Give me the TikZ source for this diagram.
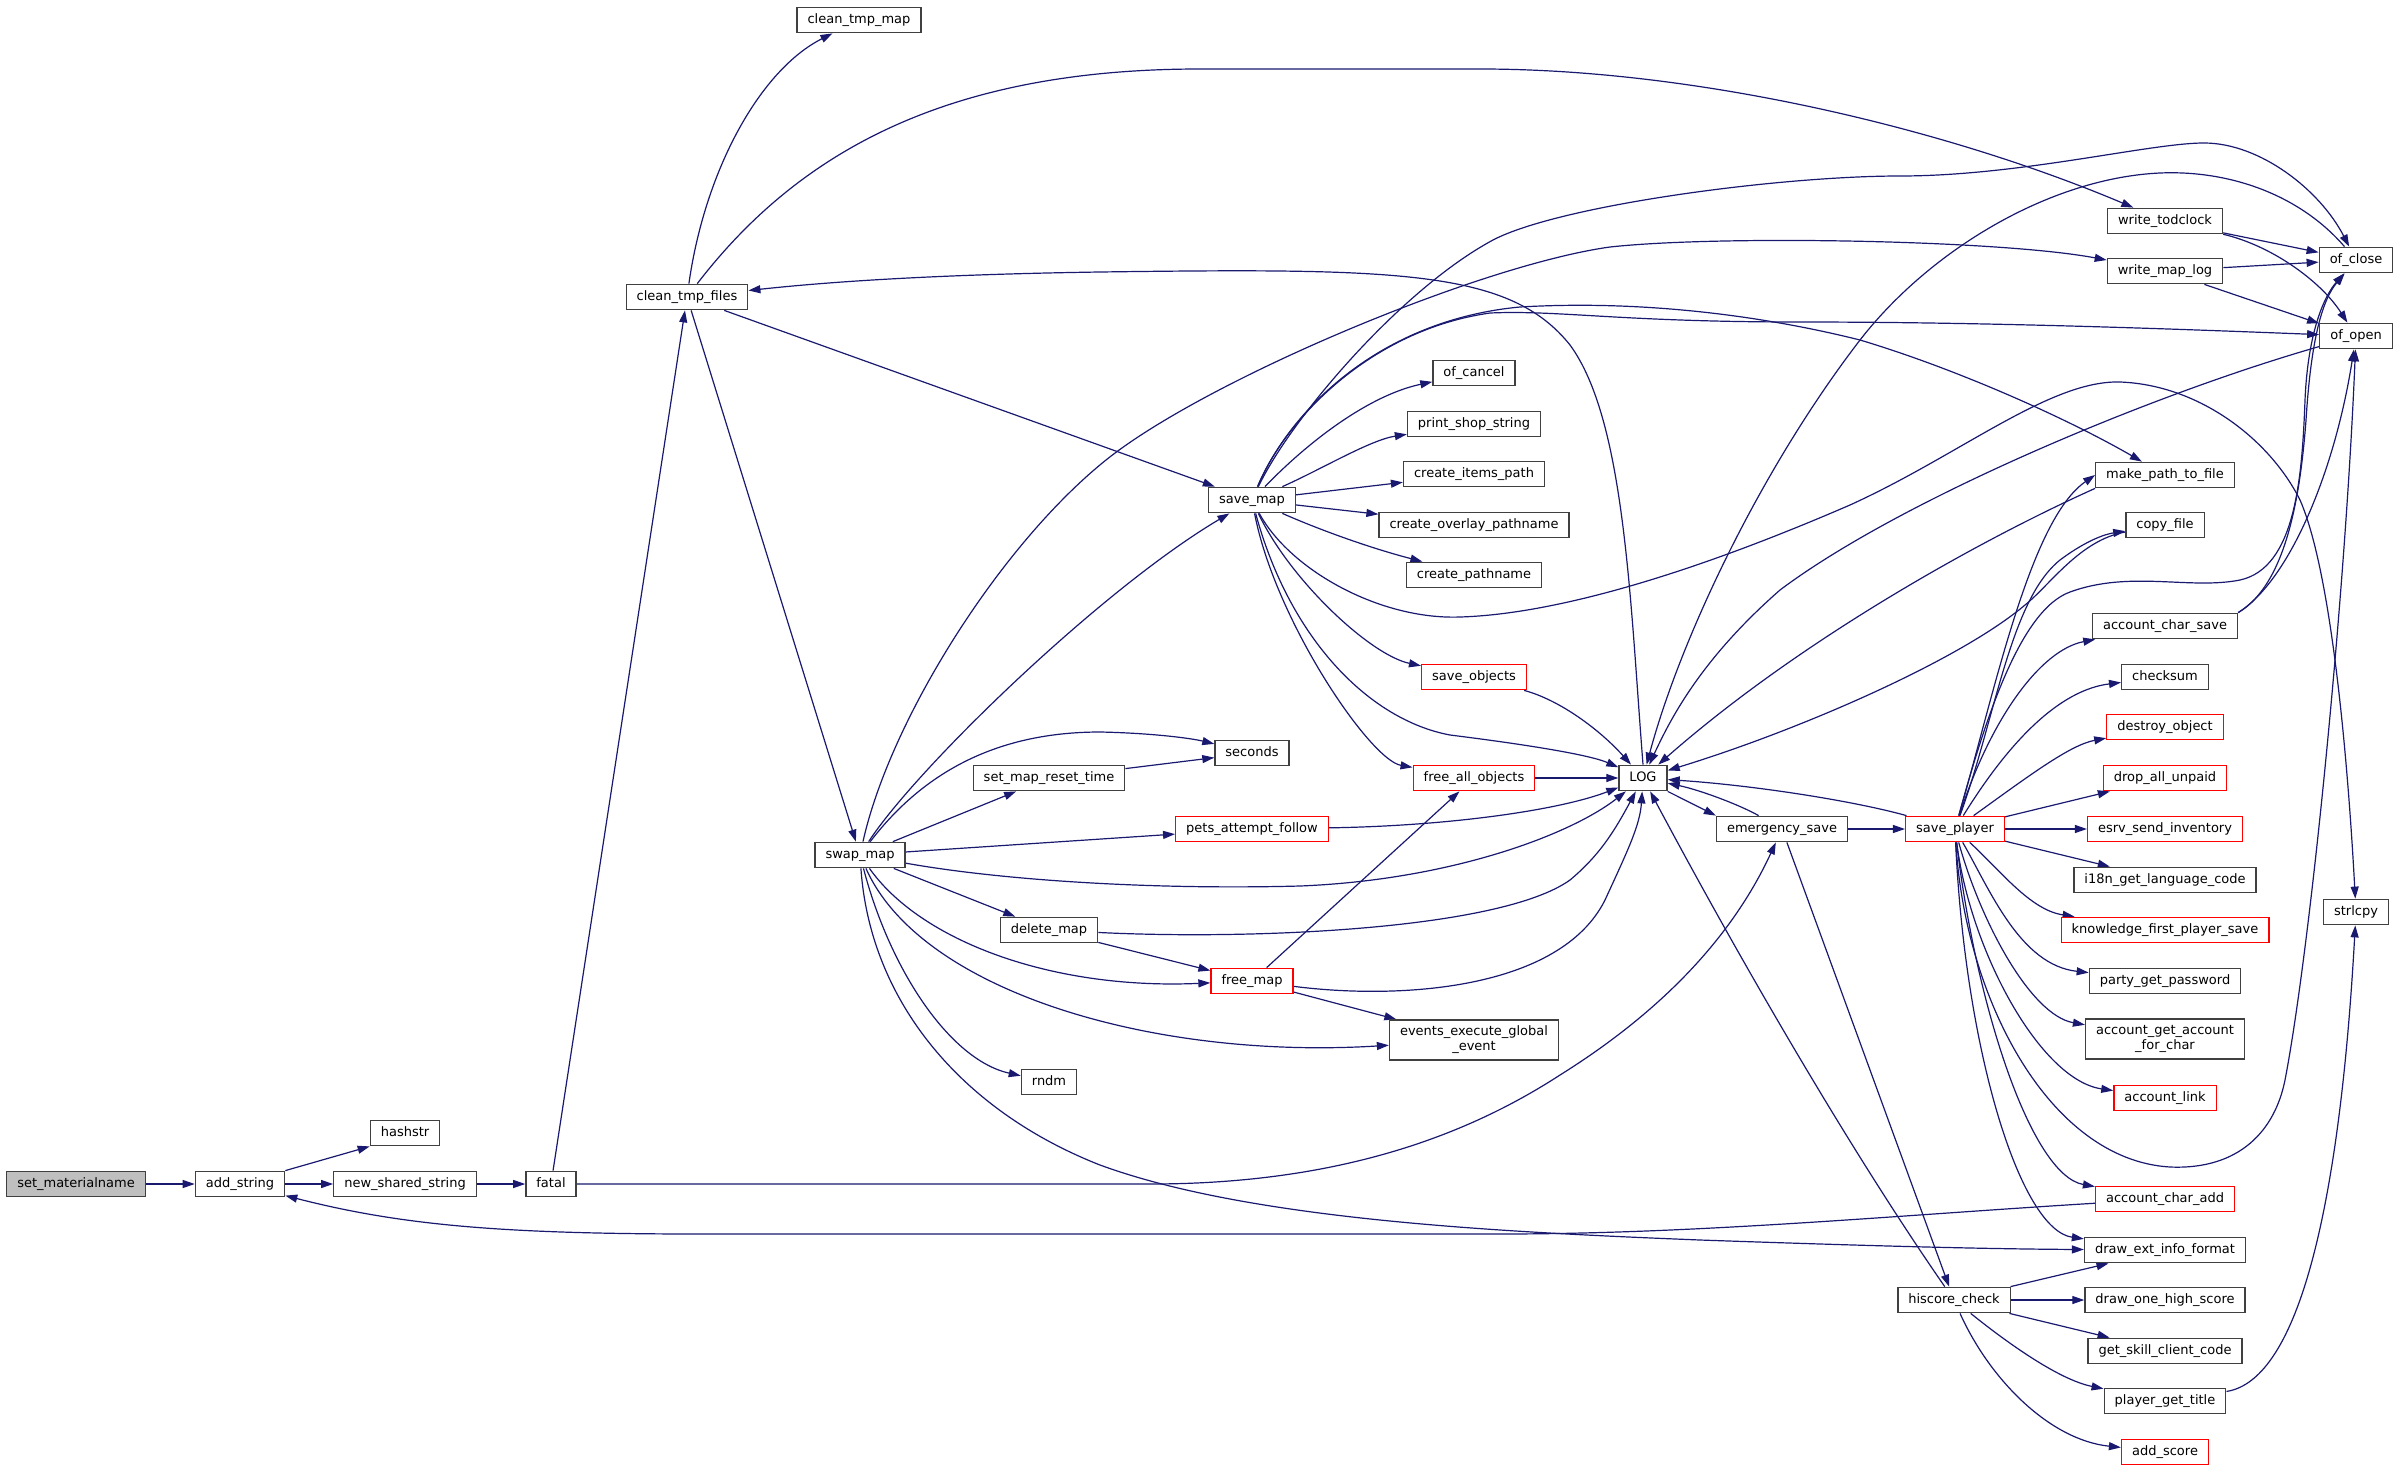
\documentclass[tikz,border=0pt]{standalone}
\usepackage{fontspec}
\setmainfont{DejaVu Sans}
\usetikzlibrary{arrows.meta}
\definecolor{edgeblue}{HTML}{191970}
\definecolor{rootgrey}{HTML}{BFBFBF}
\definecolor{boxline}{HTML}{404040}
\pgfdeclarelayer{edgelayer}
\pgfdeclarelayer{paper}
\pgfsetlayers{paper,edgelayer,main}
\begin{document}
\begin{tikzpicture}[x=1pt,y=-1pt,
  fn/.style={draw=boxline, line width=1.3pt, fill=white, font=\fontsize{13}{15}\selectfont,
    inner xsep=10.5pt, inner ysep=0pt, minimum height=25.5pt, text height=9.8pt, text depth=3pt},
  fnred/.style={fn, draw=red},
  fnroot/.style={fn, fill=rootgrey},
  fntwo/.style={draw=boxline, line width=1.3pt, fill=white, font=\fontsize{13}{15}\selectfont,
    align=center, inner xsep=10.5pt, inner ysep=3pt, minimum height=40pt},
  e/.style={draw=edgeblue, line width=1.2pt, -{Triangle[length=12pt,width=8pt]}},
]
\begin{pgfonlayer}{paper}
\fill[white] (0,0) rectangle (2400,1472);
\end{pgfonlayer}
\useasboundingbox (0,0) rectangle (2400,1472);

% ---------------- nodes ----------------
\node[fnroot] (setm) at (76,1184) {set\_materialname};
\node[fn] (adds) at (240,1184) {add\_string};
\node[fn] (hashstr) at (405,1133) {hashstr};
\node[fn] (nss) at (405,1184) {new\_shared\_string};
\node[fn] (fatal) at (551,1184) {fatal};
\node[fn] (ctf) at (687,297) {clean\_tmp\_files};
\node[fn] (ctm) at (859,20) {clean\_tmp\_map};
\node[fn] (savemap) at (1252,500) {save\_map};
\node[fn] (ofcancel) at (1474,373) {of\_cancel};
\node[fn] (pss) at (1474,424) {print\_shop\_string};
\node[fn] (cip) at (1474,474) {create\_items\_path};
\node[fn] (cop) at (1474,525) {create\_overlay\_pathname};
\node[fn] (cpn) at (1474,575) {create\_pathname};
\node[fnred] (saveobj) at (1474,677) {save\_objects};
\node[fnred] (fao) at (1474,778) {free\_all\_objects};
\node[fn] (seconds) at (1252,753) {seconds};
\node[fn] (smrt) at (1049,778) {set\_map\_reset\_time};
\node[fn] (swapmap) at (860,855) {swap\_map};
\node[fnred] (paf) at (1252,829) {pets\_attempt\_follow};
\node[fn] (delmap) at (1049,930) {delete\_map};
\node[fnred] (freemap) at (1252,981) {free\_map};
\node[fntwo] (eeg) at (1474,1040) {events\_execute\_global\\\_event};
\node[fn] (rndm) at (1049,1082) {rndm};
\node[fn] (wtc) at (2165,221) {write\_todclock};
\node[fn] (wml) at (2165,271) {write\_map\_log};
\node[fn] (ofclose) at (2356,260) {of\_close};
\node[fn] (ofopen) at (2356,336) {of\_open};
\node[fn] (mptf) at (2165,475) {make\_path\_to\_file};
\node[fn] (copyf) at (2165,525) {copy\_file};
\node[fn] (acs) at (2165,626) {account\_char\_save};
\node[fn] (checksum) at (2165,677) {checksum};
\node[fn] (LOG) at (1643,778) {LOG};
\node[fn] (esave) at (1782,829) {emergency\_save};
\node[fnred] (splayer) at (1955,829) {save\_player};
\node[fnred] (destroy) at (2165,727) {destroy\_object};
\node[fnred] (dropall) at (2165,778) {drop\_all\_unpaid};
\node[fnred] (esrv) at (2165,829) {esrv\_send\_inventory};
\node[fn] (i18n) at (2165,880) {i18n\_get\_language\_code};
\node[fnred] (kfps) at (2165,930) {knowledge\_first\_player\_save};
\node[fn] (pgp) at (2165,981) {party\_get\_password};
\node[fntwo] (agafc) at (2165,1039) {account\_get\_account\\\_for\_char};
\node[fnred] (alink) at (2165,1098) {account\_link};
\node[fnred] (aca) at (2165,1199) {account\_char\_add};
\node[fn] (deif) at (2165,1250) {draw\_ext\_info\_format};
\node[fn] (hiscore) at (1954,1300) {hiscore\_check};
\node[fn] (dohs) at (2165,1300) {draw\_one\_high\_score};
\node[fn] (gscc) at (2165,1351) {get\_skill\_client\_code};
\node[fn] (pgt) at (2165,1401) {player\_get\_title};
\node[fnred] (addscore) at (2165,1452) {add\_score};
\node[fn] (strlcpy) at (2356,912) {strlcpy};

% ---------------- edges ----------------
\begin{pgfonlayer}{edgelayer}
% left chain
\draw[e] (setm) -- (adds);
\draw[e] (adds.north east) -- (hashstr.south west);
\draw[e] (adds) -- (nss);
\draw[e] (nss) -- (fatal);
\draw[e] (fatal) -- (ctf);
\draw[e] (fatal) -- (1150,1184) .. controls (1330,1184) and (1460,1140) .. (1560,1075) .. controls (1680,1000) and (1740,920) .. (esave);
\draw[e] (aca) .. controls (1900,1215) and (1700,1234) .. (1500,1234) -- (700,1234) .. controls (500,1234) and (400,1225) .. (adds);

% clean_tmp_files
\draw[e] (ctf) .. controls (705,170) and (760,70) .. (ctm);
\draw[e] (ctf) .. controls (800,150) and (950,69) .. (1200,69) -- (1480,69) .. controls (1700,69) and (1950,130) .. (wtc);
\draw[e] (ctf) -- (savemap);
\draw[e] (ctf) -- (swapmap);
\draw[e] (LOG.north) .. controls (1630,600) and (1625,420) .. (1570,345) .. controls (1510,270) and (1400,268) .. (1100,272) .. controls (900,275) and (800,285) .. (ctf);

% save_map
\draw[e] (savemap) .. controls (1310,440) and (1370,395) .. (ofcancel);
\draw[e] (savemap) .. controls (1320,470) and (1370,440) .. (pss);
\draw[e] (savemap) -- (cip);
\draw[e] (savemap) -- (cop);
\draw[e] (savemap) .. controls (1320,530) and (1370,548) .. (cpn);
\draw[e] (savemap) .. controls (1290,580) and (1370,655) .. (saveobj);
\draw[e] (savemap) .. controls (1275,620) and (1370,760) .. (fao);
\draw[e] (savemap) .. controls (1290,640) and (1370,720) .. (1450,735) .. controls (1530,745) and (1590,755) .. (LOG);
\draw[e] (savemap) .. controls (1290,570) and (1380,620) .. (1460,617) .. controls (1560,614) and (1700,570) .. (1850,505) .. controls (1960,455) and (2050,380) .. (2120,382) .. controls (2200,385) and (2270,440) .. (2300,500) .. controls (2335,580) and (2350,800) .. (strlcpy);
\draw[e] (savemap) .. controls (1290,420) and (1400,290) .. (1493,240) .. controls (1560,205) and (1780,176) .. (1900,176) .. controls (2020,176) and (2150,143) .. (2204,143) .. controls (2260,143) and (2320,190) .. (ofclose);
\draw[e] (savemap) .. controls (1285,420) and (1370,330) .. (1490,313) .. controls (1560,310) and (1620,322) .. (1800,322) .. controls (2000,322) and (2200,330) .. (ofopen);
\draw[e] (savemap) .. controls (1290,410) and (1380,320) .. (1520,307) .. controls (1640,300) and (1760,315) .. (1860,340) .. controls (1960,370) and (2070,420) .. (mptf);

% swap_map
\draw[e] (swapmap) .. controls (915,770) and (1100,590) .. (savemap);
\draw[e] (swapmap) .. controls (890,720) and (1000,545) .. (1106,460) .. controls (1206,380) and (1480,265) .. (1610,247) .. controls (1720,235) and (2000,240) .. (wml);
\draw[e] (swapmap) .. controls (925,770) and (1000,732) .. (1100,732) .. controls (1150,733) and (1190,738) .. (seconds);
\draw[e] (swapmap) -- (smrt);
\draw[e] (smrt) -- (seconds);
\draw[e] (swapmap) -- (paf);
\draw[e] (swapmap) .. controls (1000,880) and (1150,890) .. (1300,886) .. controls (1450,880) and (1570,835) .. (LOG);
\draw[e] (swapmap) -- (delmap);
\draw[e] (swapmap) .. controls (920,940) and (1050,990) .. (freemap);
\draw[e] (swapmap) .. controls (920,990) and (1150,1060) .. (eeg);
\draw[e] (swapmap) .. controls (890,970) and (950,1060) .. (rndm);
\draw[e] (swapmap) .. controls (870,1000) and (960,1110) .. (1100,1165) .. controls (1250,1220) and (1500,1232) .. (1700,1240) .. controls (1900,1247) and (2000,1249) .. (deif);

% delete_map, free_map etc.
\draw[e] (delmap) .. controls (1250,940) and (1500,930) .. (1570,880) .. controls (1600,855) and (1615,830) .. (LOG);
\draw[e] (delmap) -- (freemap);
\draw[e] (freemap) -- (fao);
\draw[e] (freemap) -- (eeg);
\draw[e] (freemap) .. controls (1400,1000) and (1560,990) .. (1605,900) .. controls (1628,850) and (1640,825) .. (LOG);
\draw[e] (paf) .. controls (1450,826) and (1560,810) .. (LOG);
\draw[e] (fao) -- (LOG);
\draw[e] (saveobj) .. controls (1560,700) and (1600,730) .. (LOG);

% LOG / emergency_save
\draw[e] (LOG.south east) -- (esave.north west);
\draw[e] (esave) .. controls (1740,805) and (1700,790) .. (LOG);
\draw[e] (esave) -- (splayer);
\draw[e] (esave) -- (hiscore);
\draw[e] (hiscore) .. controls (1850,1150) and (1740,960) .. (LOG);
\draw[e] (splayer) .. controls (1850,800) and (1750,785) .. (LOG);

% callers of LOG from the right column
\draw[e] (ofclose) .. controls (2300,195) and (2230,170) .. (2160,173) .. controls (2050,178) and (1930,250) .. (1860,340) .. controls (1760,470) and (1680,640) .. (LOG);
\draw[e] (ofopen) .. controls (2150,395) and (1900,500) .. (1780,590) .. controls (1700,660) and (1670,720) .. (LOG);
\draw[e] (mptf.south west) .. controls (1980,540) and (1800,640) .. (LOG);
\draw[e] (copyf) .. controls (2080,540) and (2050,585) .. (2025,605) .. controls (1960,660) and (1800,730) .. (LOG);

% write_* -> of_*
\draw[e] (wtc) -- (ofclose);
\draw[e] (wtc) .. controls (2270,245) and (2320,280) .. (ofopen);
\draw[e] (wml) -- (ofclose);
\draw[e] (wml) -- (ofopen);

% save_player
\draw[e] (splayer) .. controls (1995,690) and (2030,520) .. (mptf.west);
\draw[e] (splayer) .. controls (1995,720) and (2010,600) .. (2060,560) .. controls (2080,545) and (2100,535) .. (copyf);
\draw[e] (splayer) .. controls (1990,720) and (2040,650) .. (acs);
\draw[e] (splayer) .. controls (1985,720) and (2020,610) .. (2070,592) .. controls (2130,570) and (2190,590) .. (2240,580) .. controls (2295,568) and (2302,480) .. (2305,400) .. controls (2308,330) and (2325,295) .. (ofclose);
\draw[e] (acs.north east) .. controls (2285,585) and (2300,500) .. (2306,420) .. controls (2311,340) and (2322,300) .. (ofclose);
\draw[e] (acs.north east) .. controls (2290,580) and (2335,470) .. (ofopen);
\draw[e] (splayer) .. controls (2010,740) and (2060,690) .. (checksum);
\draw[e] (splayer) .. controls (2030,775) and (2070,745) .. (destroy);
\draw[e] (splayer) -- (dropall);
\draw[e] (splayer) -- (esrv);
\draw[e] (splayer) -- (i18n);
\draw[e] (splayer) .. controls (2000,870) and (2030,910) .. (kfps);
\draw[e] (splayer) .. controls (1990,890) and (2020,965) .. (pgp);
\draw[e] (splayer) .. controls (1980,920) and (2030,1015) .. (agafc);
\draw[e] (splayer) .. controls (1970,950) and (2040,1080) .. (alink);
\draw[e] (splayer) .. controls (1965,1000) and (2050,1160) .. (2170,1167) .. controls (2240,1170) and (2275,1130) .. (2285,1080) .. controls (2310,950) and (2345,600) .. (ofopen);
\draw[e] (splayer) .. controls (1975,1000) and (2030,1175) .. (aca);
\draw[e] (splayer) .. controls (1965,1050) and (2020,1230) .. (deif);

% hiscore_check
\draw[e] (hiscore) -- (deif);
\draw[e] (hiscore) -- (dohs);
\draw[e] (hiscore) -- (gscc);
\draw[e] (hiscore) .. controls (2010,1345) and (2060,1380) .. (pgt);
\draw[e] (hiscore) .. controls (1990,1380) and (2050,1440) .. (addscore);
\draw[e] (pgt) .. controls (2300,1380) and (2340,1200) .. (strlcpy);
\end{pgfonlayer}
\end{tikzpicture}
\end{document}
